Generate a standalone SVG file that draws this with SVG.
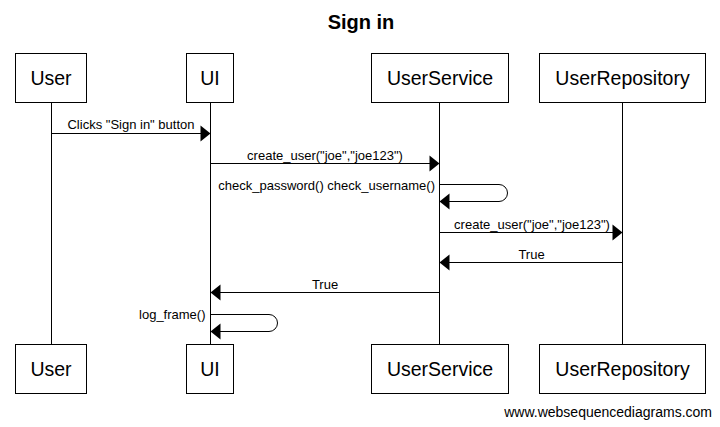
<svg xmlns="http://www.w3.org/2000/svg" width="720" height="427" viewBox="0 0 720 427">
<style>
  .box { fill: #ffffff; stroke: #000000; stroke-width: 1; }
  .life { stroke: #000000; stroke-width: 1; fill: none; }
  .pname { font-family: "Liberation Sans", Arial, sans-serif; font-size: 19.5px; fill: #000000; text-anchor: middle; }
  .msg { stroke: #000000; stroke-width: 1; fill: none; }
  .head { fill: #000000; stroke: none; }
  .lbl { font-family: "Liberation Sans", Arial, sans-serif; font-size: 13px; fill: #000000; }
  .mid { text-anchor: middle; }
  .end { text-anchor: end; }
</style>
<rect x="0" y="0" width="720" height="427" fill="#ffffff"/>
<text x="361" y="29" font-family="Liberation Sans, Arial, sans-serif" font-size="20" font-weight="bold" text-anchor="middle" fill="#000000">Sign in</text>

<g id="User">
  <line class="life" x1="51.5" y1="102.5" x2="51.5" y2="344.5"/>
  <rect class="box" x="15.5" y="53.5" width="71" height="49"/>
  <text class="pname" x="51" y="85">User</text>
  <rect class="box" x="15.5" y="344.5" width="71" height="49"/>
  <text class="pname" x="51" y="376">User</text>
</g>
<g id="UI">
  <line class="life" x1="210.5" y1="102.5" x2="210.5" y2="344.5"/>
  <rect class="box" x="186.5" y="53.5" width="47" height="49"/>
  <text class="pname" x="210" y="85">UI</text>
  <rect class="box" x="186.5" y="344.5" width="47" height="49"/>
  <text class="pname" x="210" y="376">UI</text>
</g>
<g id="UserService">
  <line class="life" x1="439.5" y1="102.5" x2="439.5" y2="344.5"/>
  <rect class="box" x="371.5" y="53.5" width="137" height="49"/>
  <text class="pname" x="440" y="85">UserService</text>
  <rect class="box" x="371.5" y="344.5" width="137" height="49"/>
  <text class="pname" x="440" y="376">UserService</text>
</g>
<g id="UserRepository">
  <line class="life" x1="622.5" y1="102.5" x2="622.5" y2="344.5"/>
  <rect class="box" x="539.5" y="53.5" width="166" height="49"/>
  <text class="pname" x="622.5" y="85">UserRepository</text>
  <rect class="box" x="539.5" y="344.5" width="166" height="49"/>
  <text class="pname" x="622.5" y="376">UserRepository</text>
</g>

<g id="connectors">
  <!-- 1 User -> UI -->
  <line class="msg" x1="51.5" y1="133.5" x2="202" y2="133.5"/>
  <polygon class="head" points="210.5,133.5 200.5,125.5 200.5,141.5"/>
  <text class="lbl mid" x="131" y="128.5">Clicks "Sign in" button</text>

  <!-- 2 UI -> UserService -->
  <line class="msg" x1="210.5" y1="163.5" x2="431" y2="163.5"/>
  <polygon class="head" points="439.5,163.5 429.5,155.5 429.5,171.5"/>
  <text class="lbl mid" x="325" y="159.5">create_user("joe","joe123")</text>

  <!-- 3 UserService self -->
  <path class="msg" d="M439.5,184.5 H499 A8.5,8.5 0 0 1 507.5,193 A8.5,8.5 0 0 1 499,201.5 H448"/>
  <polygon class="head" points="439.5,201.5 449.5,193.5 449.5,209.5"/>
  <text class="lbl end" x="435" y="190">check_password() check_username()</text>

  <!-- 4 UserService -> UserRepository -->
  <line class="msg" x1="439.5" y1="232.5" x2="614" y2="232.5"/>
  <polygon class="head" points="622.5,232.5 612.5,224.5 612.5,240.5"/>
  <text class="lbl mid" x="532" y="228.5">create_user("joe","joe123")</text>

  <!-- 5 UserRepository -> UserService -->
  <line class="msg" x1="622.5" y1="262.5" x2="448" y2="262.5"/>
  <polygon class="head" points="439.5,262.5 449.5,254.5 449.5,270.5"/>
  <text class="lbl mid" x="531.5" y="258.5">True</text>

  <!-- 6 UserService -> UI -->
  <line class="msg" x1="439.5" y1="292.5" x2="219" y2="292.5"/>
  <polygon class="head" points="210.5,292.5 220.5,284.5 220.5,300.5"/>
  <text class="lbl mid" x="325" y="288.5">True</text>

  <!-- 7 UI self -->
  <path class="msg" d="M210.5,314.5 H269 A8.5,8.5 0 0 1 277.5,323 A8.5,8.5 0 0 1 269,331.5 H219"/>
  <polygon class="head" points="210.5,331.5 220.5,323.5 220.5,339.5"/>
  <text class="lbl end" x="205.5" y="319">log_frame()</text>
</g>

<text x="712" y="417" font-family="Liberation Sans, Arial, sans-serif" font-size="14" text-anchor="end" fill="#000000">www.websequencediagrams.com</text>
</svg>
